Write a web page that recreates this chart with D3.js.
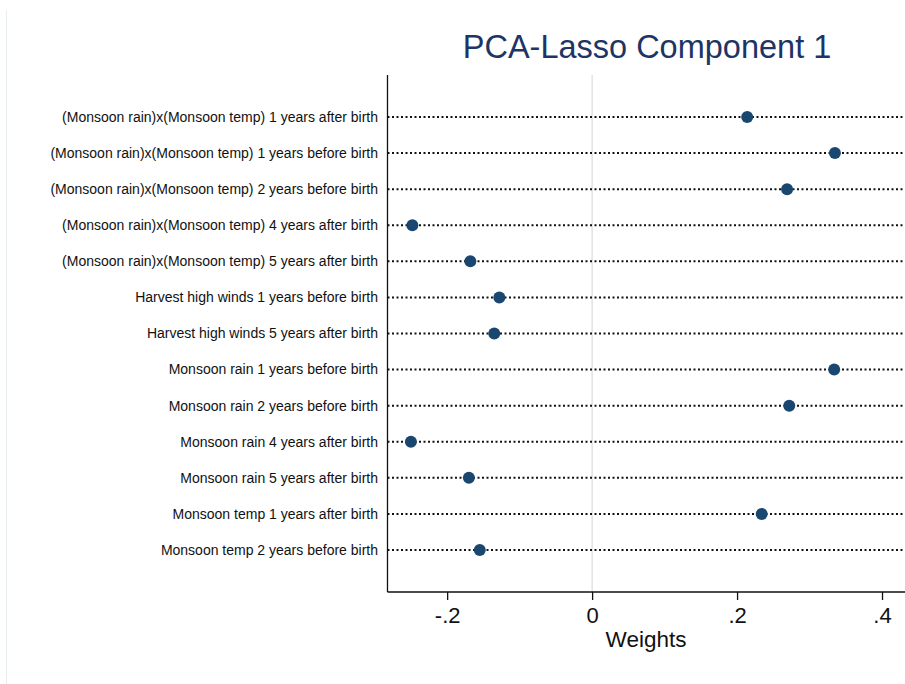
<!DOCTYPE html>
<html>
<head>
<meta charset="utf-8">
<script src="https://cdn.jsdelivr.net/npm/d3@7"></script>
<style>
  body { margin: 0; background: #fff; }
  text { font-family: "Liberation Sans", Arial, sans-serif; }
</style>
</head>
<body>
<svg id="chart" width="905" height="684"></svg>
<script>
// variable names, top to bottom
var labels = [
  "(Monsoon rain)x(Monsoon temp) 1 years after birth",
  "(Monsoon rain)x(Monsoon temp) 1 years before birth",
  "(Monsoon rain)x(Monsoon temp) 2 years before birth",
  "(Monsoon rain)x(Monsoon temp) 4 years after birth",
  "(Monsoon rain)x(Monsoon temp) 5 years after birth",
  "Harvest high winds 1 years before birth",
  "Harvest high winds 5 years after birth",
  "Monsoon rain 1 years before birth",
  "Monsoon rain 2 years before birth",
  "Monsoon rain 4 years after birth",
  "Monsoon rain 5 years after birth",
  "Monsoon temp 1 years after birth",
  "Monsoon temp 2 years before birth"
];
var weights = [0.214, 0.335, 0.269, -0.248, -0.168, -0.128, -0.135, 0.334, 0.272, -0.250, -0.170, 0.234, -0.155];
var tickValues = [-0.2, 0, 0.2, 0.4];
var tickLabels = ["-.2", "0", ".2", ".4"];

var svg = d3.select("#chart");
var navy = "#1a476f";

// faint frame line on the left
svg.append("line")
  .attr("x1", 6.5).attr("x2", 6.5)
  .attr("y1", 10).attr("y2", 684)
  .attr("stroke", "#e8eeee").attr("stroke-width", 1);

var plotLeft = 387.5, plotRight = 905, plotTop = 75, plotBottom = 592;

var x = d3.scaleLinear()
  .domain([-0.2823, 0.4317])
  .range([plotLeft, plotRight]);

var y = d3.scalePoint()
  .domain(labels)
  .range([117, 550]);

// zero reference line
svg.append("line")
  .attr("x1", x(0)).attr("x2", x(0))
  .attr("y1", plotTop).attr("y2", plotBottom)
  .attr("stroke", "#d4d4d4").attr("stroke-width", 1);

// dotted guide lines
svg.append("g").selectAll("line")
  .data(labels)
  .join("line")
  .attr("x1", plotLeft).attr("x2", plotRight)
  .attr("y1", function (d) { return y(d); })
  .attr("y2", function (d) { return y(d); })
  .attr("stroke", "#111")
  .attr("stroke-width", 2)
  .attr("stroke-dasharray", "2,2.5");

// y labels
svg.append("g").selectAll("text")
  .data(labels)
  .join("text")
  .attr("x", 378)
  .attr("y", function (d) { return y(d); })
  .attr("dy", "0.35em")
  .attr("text-anchor", "end")
  .attr("font-size", 14)
  .attr("fill", "#111")
  .text(function (d) { return d; });

// left axis line
svg.append("line")
  .attr("x1", plotLeft).attr("x2", plotLeft)
  .attr("y1", plotTop).attr("y2", plotBottom)
  .attr("stroke", "#111").attr("stroke-width", 1.3);

// x axis
var xAxis = d3.axisBottom(x)
  .tickValues(tickValues)
  .tickSize(8)
  .tickPadding(3)
  .tickFormat(function (d, i) { return tickLabels[i]; });

var gx = svg.append("g")
  .attr("transform", "translate(0," + plotBottom + ")")
  .call(xAxis);
gx.select(".domain").attr("stroke", "#111").attr("stroke-width", 1.3)
  .attr("d", "M" + plotLeft + ",0H" + plotRight);
gx.selectAll(".tick line").attr("stroke", "#111").attr("stroke-width", 1.3);
gx.selectAll(".tick text")
  .attr("font-family", "Liberation Sans, Arial, sans-serif")
  .attr("font-size", 22).attr("fill", "#111")
  .attr("y", 31).attr("dy", null);

// points
svg.append("g").selectAll("circle")
  .data(labels)
  .join("circle")
  .attr("cx", function (d, i) { return x(weights[i]); })
  .attr("cy", function (d) { return y(d); })
  .attr("r", 6)
  .attr("fill", navy);

// axis title
svg.append("text")
  .attr("x", 646).attr("y", 647)
  .attr("text-anchor", "middle")
  .attr("font-size", 22.5)
  .attr("fill", "#111")
  .text("Weights");

// chart title
svg.append("text")
  .attr("x", 647).attr("y", 58)
  .attr("text-anchor", "middle")
  .attr("font-size", 32.5)
  .attr("fill", "#1e3464")
  .text("PCA-Lasso Component 1");
</script>
</body>
</html>
